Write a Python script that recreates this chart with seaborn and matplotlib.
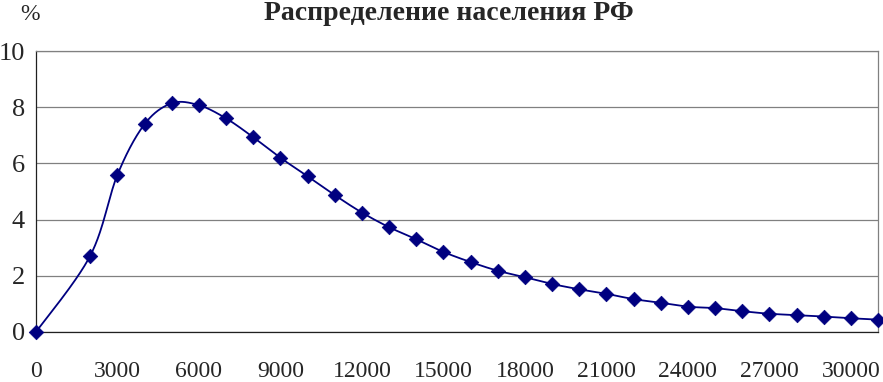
import numpy as np
import matplotlib
matplotlib.use('Agg')
import matplotlib.pyplot as plt
import seaborn as sns

# income (rub) and share of population (%)
income = [0, 2000, 3000, 4000, 5000, 6000, 7000, 8000, 9000, 10000,
          11000, 12000, 13000, 14000, 15000, 16000, 17000, 18000, 19000, 20000,
          21000, 22000, 23000, 24000, 25000, 26000, 27000, 28000, 29000, 30000, 31000]
share = [0.0, 2.72, 5.6, 7.4, 8.14, 8.07, 7.6, 6.93, 6.2, 5.54,
         4.87, 4.25, 3.73, 3.30, 2.85, 2.49, 2.18, 1.95, 1.71, 1.52,
         1.36, 1.17, 1.04, 0.90, 0.85, 0.74, 0.65, 0.60, 0.55, 0.49, 0.44]
xticks = list(range(0, 30001, 3000))
yticks = [0, 2, 4, 6, 8, 10]

NAVY = '#000080'


def smooth_curve(x, y, n=40):
	# Excel-like smoothed line: bezier segments with catmull-rom control points
	x = np.asarray(x, float)
	y = np.asarray(y, float)
	px = np.concatenate([[x[0]], x, [x[-1]]])
	py = np.concatenate([[y[0]], y, [y[-1]]])
	xs, ys = [], []
	t = np.linspace(0, 1, n)
	for i in range(len(x) - 1):
		p0 = np.array([px[i + 1], py[i + 1]])
		p3 = np.array([px[i + 2], py[i + 2]])
		c1 = p0 + (np.array([px[i + 2], py[i + 2]]) - np.array([px[i], py[i]])) / 6
		c2 = p3 - (np.array([px[i + 3], py[i + 3]]) - np.array([px[i + 1], py[i + 1]])) / 6
		b = ((1 - t) ** 3)[:, None] * p0 + (3 * (1 - t) ** 2 * t)[:, None] * c1 \
			+ (3 * (1 - t) * t ** 2)[:, None] * c2 + (t ** 3)[:, None] * p3
		xs.extend(b[:, 0])
		ys.extend(b[:, 1])
	return xs, ys


sns.set_style('white')
plt.rcParams['font.family'] = ['Liberation Serif', 'DejaVu Serif']

fig = plt.figure(figsize=(8.83, 3.82), dpi=100)
ax = fig.add_axes([36 / 883, 50 / 382, 842 / 883, 281 / 382])

sx, sy = smooth_curve(income, share)
ax.plot(sx, sy, color=NAVY, lw=1.3, zorder=3)
sns.scatterplot(x=income, y=share, marker='D', s=55, color=NAVY,
				edgecolor=NAVY, linewidth=0.5, ax=ax, zorder=4, clip_on=False)

ax.set_xlim(0, 31000)
ax.set_ylim(0, 10)
ax.set_xticks(xticks)
ax.set_yticks(yticks)
ax.tick_params(axis='x', direction='out', length=6, width=0.8, pad=15,
			   labelsize=17, color='#404040')
ax.tick_params(axis='y', direction='out', length=6, width=0.8, pad=2,
			   labelsize=19, color='#404040')
ax.yaxis.grid(True, color='#808080', lw=0.9)
ax.set_axisbelow(True)
for s in ['left', 'bottom']:
	ax.spines[s].set_color('#202020')
	ax.spines[s].set_linewidth(0.9)
for s in ['top', 'right']:
	ax.spines[s].set_color('#808080')
	ax.spines[s].set_linewidth(0.9)

fig.text(449 / 883, 1 - 13 / 382, 'Распределение населения РФ', ha='center', va='center',
		 fontsize=20, fontweight='bold')
fig.text(30 / 883, 1 - 14 / 382, '%', ha='center', va='center', fontsize=17)

fig.savefig('out.png', dpi=100)
